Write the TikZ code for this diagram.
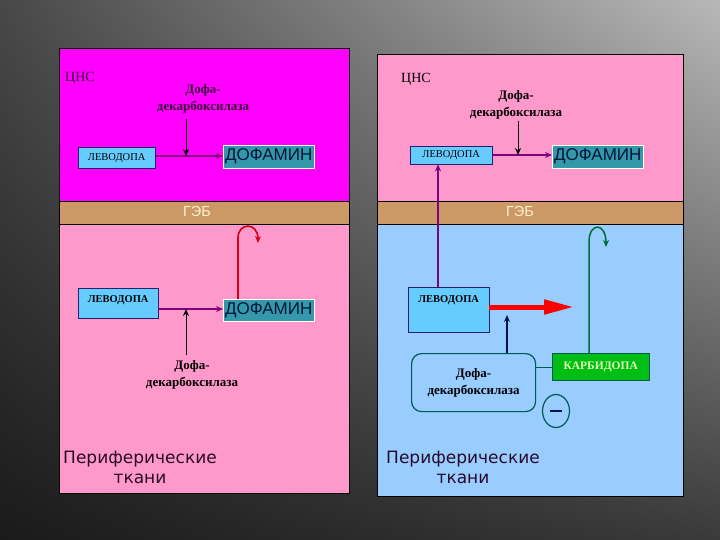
\documentclass[tikz,border=0pt]{standalone}
\usepackage{fontspec}
\setmainfont{Liberation Serif}
\setsansfont{Liberation Sans}
\newfontfamily\tkanifont{DejaVu Sans}
\usepackage{xcolor}
\usepackage{tikz}
\usetikzlibrary{arrows.meta,positioning,calc,shapes.geometric,shadings}

\definecolor{cnsmag}{RGB}{255,0,255}
\definecolor{cnspink}{RGB}{255,153,204}
\definecolor{gebtan}{RGB}{204,153,102}
\definecolor{periblue}{RGB}{153,204,255}
\definecolor{levfill}{RGB}{102,204,255}
\definecolor{levborder}{RGB}{40,30,110}
\definecolor{dofteal}{RGB}{51,153,170}
\definecolor{dofink}{RGB}{0,20,60}
\definecolor{convpurple}{RGB}{128,0,128}
\definecolor{enzink}{RGB}{60,0,60}
\definecolor{karbgreen}{RGB}{0,190,20}
\definecolor{karbink}{RGB}{225,255,180}
\definecolor{inhgreen}{RGB}{0,90,80}
\definecolor{recycgreen}{RGB}{0,110,50}
\definecolor{recycred}{RGB}{210,0,20}
\definecolor{enzarrow}{RGB}{0,20,70}
\definecolor{gebink}{RGB}{255,240,205}
\definecolor{periink}{RGB}{40,10,40}
\definecolor{bgul}{RGB}{72,72,72}
\definecolor{bgur}{RGB}{184,184,184}
\definecolor{bgll}{RGB}{26,26,26}
\definecolor{bglr}{RGB}{58,58,58}

\begin{document}
\begin{tikzpicture}[x=1pt,y=-1pt,
            lev/.style={draw=levborder, fill=levfill, inner sep=0pt, anchor=north west,
                 font=\fontsize{10.5}{12}\selectfont},
            dof/.style={draw=white, line width=0.5pt, fill=dofteal, text=dofink, inner sep=0pt,
                 anchor=north west, minimum width=91pt, font=\sffamily\fontsize{17}{20}\selectfont},
            enz/.style={align=center, inner sep=1pt, font=\bfseries\fontsize{13}{17}\selectfont},
            conv/.style={draw=convpurple, line width=1.8pt, -{Stealth[length=7pt,width=6pt]}},
            act/.style={draw=black, line width=0.8pt, -{Stealth[length=7pt,width=6pt]}},
            geb/.style={text=gebink, font=\sffamily\fontsize{14.5}{16}\selectfont},
            cns/.style={anchor=west, inner sep=0pt, font=\fontsize{14}{16}\selectfont},
            peri/.style={align=center, text=periink, font=\tkanifont\fontsize{17}{20}\selectfont}
            ]
            \useasboundingbox (0,0) rectangle (720,540);
            \shade[upper left=bgul, upper right=bgur, lower left=bgll, lower right=bglr]
                (0,0) rectangle (720,540);

            % Panels
            \fill[cnsmag] (59,48) rectangle (349,201);
            \fill[gebtan] (59,201) rectangle (349,224);
            \fill[cnspink] (59,224) rectangle (349,493);
            \draw (59,201) -- (349,201) (59,224) -- (349,224);
            \draw (59,48) rectangle (349,493);

            \fill[cnspink] (377,54) rectangle (683,201);
            \fill[gebtan] (377,201) rectangle (683,224);
            \fill[periblue] (377,224) rectangle (683,496);
            \draw (377,201) -- (683,201) (377,224) -- (683,224);
            \draw (377,54) rectangle (683,496);

            % Left panel nodes
            \node[cns, text=enzink] (cnsL) at (65,78) {ЦНС};
            \node[enz, text=enzink] (enzL) at (203,99) {Дофа-\\декарбоксилаза};
            \node[lev, minimum width=77pt, minimum height=21pt] (levL) at (78,147) {ЛЕВОДОПА};
            \node[dof, minimum height=23pt] (dofL) at (223,145) {ДОФАМИН};
            \node[geb] (gebL) at (197,212) {ГЭБ};
            \node[lev, minimum width=80pt, text height=14pt, text depth=16pt,
                 font=\bfseries\fontsize{10.5}{12}\selectfont] (levLp) at (78,288) {ЛЕВОДОПА};
            \node[dof, minimum height=22pt] (dofLp) at (223,299) {ДОФАМИН};
            \node[enz] (enzLp) at (192,375) {Дофа-\\декарбоксилаза};
            \node[peri] (periL) at (140,467) {Периферические\\ткани};
            \coordinate (jL) at (186,156);
            \coordinate (jLp) at (186,309);
            \coordinate (backL) at (258,243);

            % Right panel nodes
            \node[cns] (cnsR) at (401,79) {ЦНС};
            \node[enz] (enzR) at (516,105) {Дофа-\\декарбоксилаза};
            \node[lev, minimum width=82pt, minimum height=18pt] (levR) at (410,146) {ЛЕВОДОПА};
            \node[dof, minimum height=23pt] (dofR) at (552,145) {ДОФАМИН};
            \node[geb] (gebR) at (520,212) {ГЭБ};
            \node[lev, minimum width=81pt, text height=15pt, text depth=30pt,
                 font=\bfseries\fontsize{10.5}{12}\selectfont] (levRp) at (408,287) {ЛЕВОДОПА};
            \node[draw=inhgreen, line width=1.2pt, rounded corners=10pt, minimum width=124pt,
                 minimum height=58pt, enz, anchor=north west] (enzRp) at (411,353) {Дофа-\\декарбоксилаза};
            \node[draw=inhgreen, fill=karbgreen, text=karbink, inner sep=0pt, anchor=north west,
                 minimum width=97pt, minimum height=27pt, font=\bfseries\fontsize{11.5}{13}\selectfont]
                 (karb) at (552,353) {КАРБИДОПА};
            \node[draw=inhgreen, line width=1.2pt, ellipse, minimum width=27pt, minimum height=33pt,
                 inner sep=0pt] (inh) at (556,411) {};
            \node[peri] (periR) at (463,467) {Периферические\\ткани};
            \coordinate (jR) at (518,155);
            \coordinate (jRp) at (507,315);
            \coordinate (tipR) at (574,307);
            \coordinate (backR) at (606,247);

            % Arrows
            \draw[conv] (levL.east |- jL) -- (dofL.west |- jL);
            \draw[act, shorten <=4pt] (enzL.south -| jL) -- (jL);
            \draw[conv] (levLp.east |- jLp) -- (dofLp.west |- jLp);
            \draw[act, shorten <=4pt] (enzLp.north -| jLp) -- (jLp);
            \draw[recycred, line width=1.6pt, -{Stealth[length=7pt,width=6pt]}]
                ([xshift=15pt]dofLp.north west) -- (238,238) .. controls (238,222) and (258,222) .. (backL);

            \draw[conv] (levR.east |- jR) -- (dofR.west |- jR);
            \draw[act] (enzR.south -| jR) -- (jR);
            \draw[conv] ([xshift=30pt]levRp.north west) -- ([xshift=28pt]levR.south west);
            \draw[red, line width=5pt, -{Triangle[length=30pt,width=14pt]}]
                (levRp.east |- tipR) -- (tipR);
            \draw[enzarrow, line width=1.4pt, -{Stealth[length=7pt,width=6pt]}]
                (enzRp.north -| jRp) -- (jRp);
            \draw[inhgreen] (karb.west) -- (karb.west -| enzRp.east);
            \draw[enzarrow, line width=2pt] ([xshift=-6pt]inh.center) -- ([xshift=6pt]inh.center);
            \draw[recycgreen, line width=1.5pt, -{Stealth[length=7pt,width=6pt]}]
                ([xshift=37pt]karb.north west) -- (589,242) .. controls (589,222) and (606,222) .. (backR);
        \end{tikzpicture}
\end{document}
